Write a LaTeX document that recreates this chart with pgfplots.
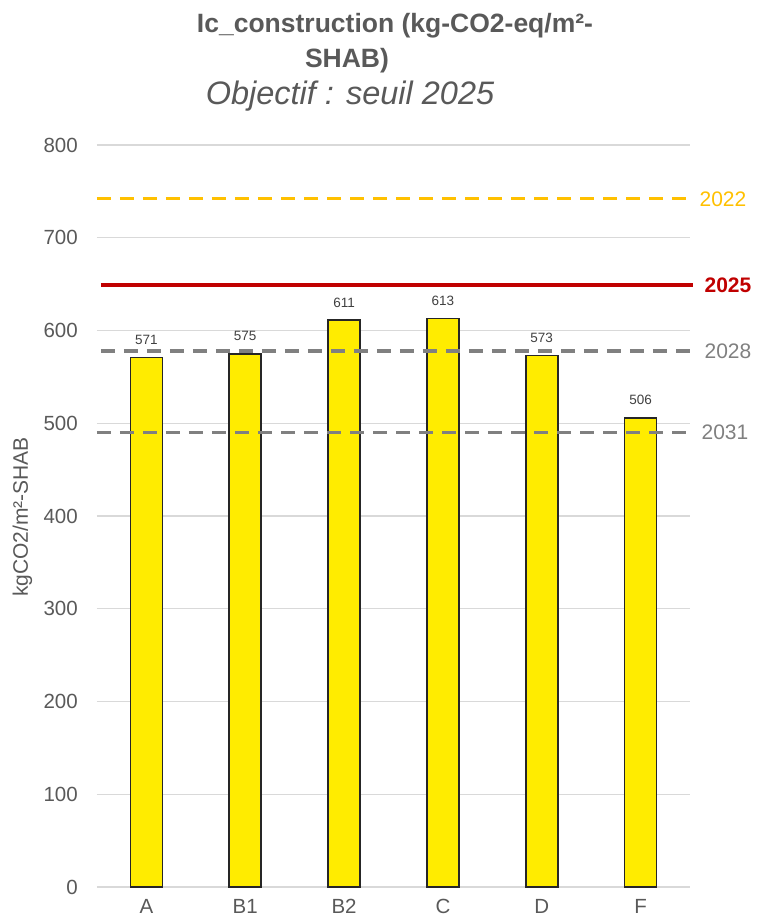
\documentclass[border=0pt]{standalone}
\usepackage{pgfplots}
\pgfplotsset{compat=1.18}
\usepackage{fontspec}
\setmainfont{Liberation Sans}
\definecolor{txt}{HTML}{595959}
\definecolor{gridc}{HTML}{D9D9D9}
\definecolor{barY}{HTML}{FFEC00}
\definecolor{vlab}{HTML}{404040}
\definecolor{cA}{HTML}{FFC000}
\definecolor{cB}{HTML}{C00000}
\definecolor{cC}{HTML}{808080}
\begin{document}
\begin{tikzpicture}
\useasboundingbox (-97pt,-37pt) rectangle (659pt,887pt);
\begin{axis}[
  at={(0pt,0pt)}, anchor=south west,
  scale only axis, width=593pt, height=742pt,
  xmin=-0.5, xmax=5.5, ymin=0, ymax=800,
  ytick={0,100,...,800},
  xtick={0,...,5}, xticklabels={A,B1,B2,C,D,F},
  /pgf/number format/assume math mode=true,
  ymajorgrids, major grid style={draw=gridc, line width=1.3pt},
  axis x line*=bottom, axis y line*=left,
  x axis line style={draw=gridc, line width=1.5pt, -},
  y axis line style={draw=none},
  tick style={draw=none}, major tick length=0pt,
  ticklabel style={font=\fontsize{20.5}{24}\selectfont, text=txt, inner sep=0pt},
  yticklabel style={anchor=east, xshift=-19pt},
  xticklabel style={anchor=base, yshift=-26pt},
  clip=false,
]
\addplot[ybar, bar width=32pt, fill=barY, draw=black!85, line width=1.7pt,
  nodes near coords,
  nodes near coords style={font=\fontsize{13.5}{15}\selectfont, text=vlab, anchor=south, inner sep=0pt, yshift=12pt}]
  coordinates {(0,571) (1,575) (2,611) (3,613) (4,573) (5,506)};
\addplot[cA, line width=3.3pt, dash pattern=on 14pt off 9pt] coordinates {(-0.5,742) (5.53,742)}
  node[pos=1, anchor=west, inner sep=0pt, xshift=5pt, font=\fontsize{21}{24}\selectfont, text=cA] {2022};
\addplot[cB, line width=3.3pt] coordinates {(-0.46,649) (5.53,649)}
  node[pos=1, anchor=west, inner sep=0pt, xshift=10pt, font=\bfseries\fontsize{21}{24}\selectfont, text=cB] {2025};
\addplot[cC, line width=3.3pt, dash pattern=on 14pt off 9pt] coordinates {(-0.46,578) (5.53,578)}
  node[pos=1, anchor=west, inner sep=0pt, xshift=10pt, font=\fontsize{21}{24}\selectfont, text=cC] {2028};
\addplot[cC, line width=3.3pt, dash pattern=on 14pt off 9pt] coordinates {(-0.5,490) (5.53,490)}
  node[pos=1, anchor=west, inner sep=0pt, xshift=7pt, font=\fontsize{21}{24}\selectfont, text=cC] {2031};
\end{axis}
\node[rotate=90, anchor=center, inner sep=0pt, font=\fontsize{21}{24}\selectfont, text=txt] at (-74.5pt,370pt) {kgCO2/m²-SHAB};
\node[anchor=base, inner sep=0pt, font=\bfseries\fontsize{26.5}{30}\selectfont, text=txt] at (298pt,854pt) {Ic\_construction (kg-CO2-eq/m²-};
\node[anchor=base, inner sep=0pt, font=\bfseries\fontsize{26.5}{30}\selectfont, text=txt] at (250pt,819pt) {SHAB)};
\node[anchor=base, inner sep=0pt, font=\itshape\fontsize{32.5}{36}\selectfont, text=txt] at (253pt,782pt) {Objectif : seuil 2025};
\end{tikzpicture}
\end{document}
